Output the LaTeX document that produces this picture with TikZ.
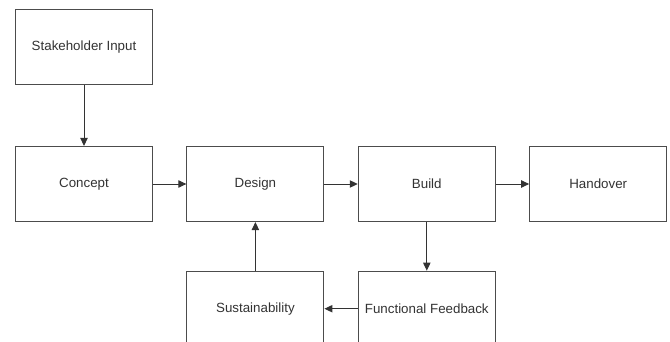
\documentclass[tikz,border=0pt]{standalone}
\usepackage{fontspec}
\setmainfont{Liberation Sans}
\usetikzlibrary{positioning,arrows.meta}

\tikzset{
  stagebox/.style={draw=black!70, line width=0.8pt, fill=white,
    minimum width=102.75pt, minimum height=56.25pt, inner sep=1pt,
    text=black!80, font=\fontsize{10}{12}\selectfont},
  flow/.style={-{Triangle[length=6pt,width=5.5pt]}, line width=0.75pt, draw=black!80}
}

\begin{document}
\begin{tikzpicture}[x=0.75pt, y=-0.75pt, node distance=25pt]

  %--- Frame of the picture
  \useasboundingbox (0,0) rectangle (670,342);
  \clip (0,0) rectangle (670,342);

  %--- Main row
  \node[stagebox] (concept) at (84,184) {Concept};
  \node[stagebox, right=of concept] (design) {Design};
  \node[stagebox, right=of design] (build) {Build};
  \node[stagebox, right=of build] (handover) {Handover};

  %--- Input and feedback loop
  \node[stagebox, above=45.5pt of concept] (input) {Stakeholder Input};
  \node[stagebox, below=36.5pt of build] (feedback) {Functional Feedback};
  \node[stagebox, below=36.5pt of design] (sustain) {Sustainability};

  %--- Connectors
  \draw[flow] (input) -- (concept);
  \draw[flow] (concept) -- (design);
  \draw[flow] (design) -- (build);
  \draw[flow] (build) -- (handover);
  \draw[flow] (build) -- (feedback);
  \draw[flow] (feedback) -- (sustain);
  \draw[flow] (sustain) -- (design);

\end{tikzpicture}
\end{document}
